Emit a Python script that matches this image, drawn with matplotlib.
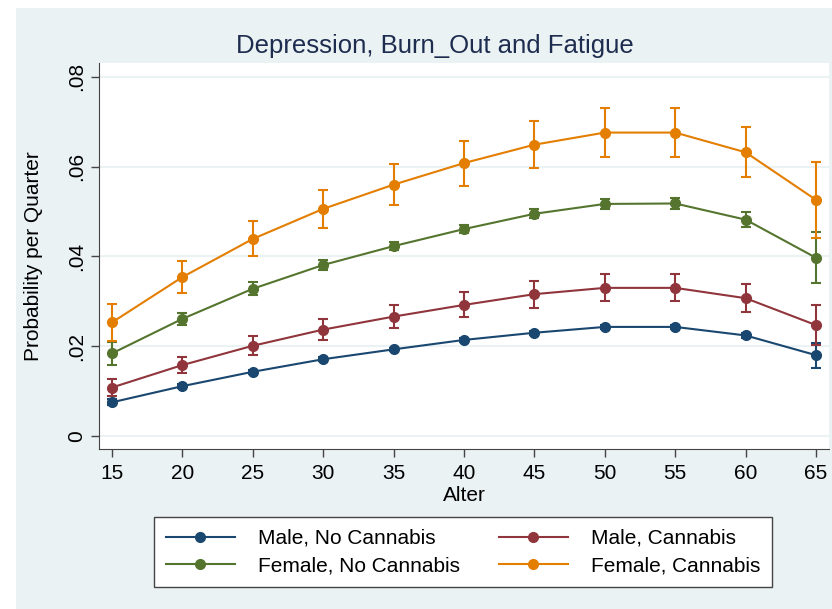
import matplotlib.pyplot as plt
from matplotlib.patches import Rectangle

plt.rcParams['font.family'] = ['Liberation Sans', 'DejaVu Sans']

ages = [15, 20, 25, 30, 35, 40, 45, 50, 55, 60, 65]

male_no = [0.0075, 0.0111, 0.0143, 0.0171, 0.0193, 0.0214, 0.0230, 0.0243, 0.0243, 0.0224, 0.0180]
male_no_err = [0.0007, 0.0005, 0.0005, 0.0005, 0.0004, 0.0004, 0.0004, 0.0005, 0.0005, 0.0006, 0.0028]

male_can = [0.0108, 0.0158, 0.0201, 0.0237, 0.0266, 0.0292, 0.0316, 0.0330, 0.0330, 0.0307, 0.0247]
male_can_err = [0.0019, 0.0017, 0.0021, 0.0024, 0.0025, 0.0028, 0.0030, 0.0030, 0.0030, 0.0031, 0.0045]

female_no = [0.0184, 0.0261, 0.0328, 0.0381, 0.0423, 0.0461, 0.0495, 0.0517, 0.0518, 0.0482, 0.0397]
female_no_err = [0.0025, 0.0014, 0.0014, 0.0011, 0.0009, 0.0009, 0.0010, 0.0012, 0.0012, 0.0017, 0.0057]

female_can = [0.0253, 0.0354, 0.0439, 0.0506, 0.0560, 0.0608, 0.0649, 0.0676, 0.0676, 0.0632, 0.0526]
female_can_err = [0.0041, 0.0035, 0.0039, 0.0043, 0.0046, 0.0050, 0.0052, 0.0055, 0.0055, 0.0056, 0.0085]

labels = ['Male, No Cannabis', 'Male, Cannabis', 'Female, No Cannabis', 'Female, Cannabis']
colors = ['#1a476f', '#90353b', '#55752f', '#e37e00']

fig = plt.figure(figsize=(8.32, 6.09), dpi=100)
fig.patches.append(Rectangle((16 / 832, 0), 1, 1 - 8 / 609, transform=fig.transFigure,
                             facecolor='#eaf2f3', edgecolor='none', zorder=-10))

ax = fig.add_axes([99 / 832, 1 - 449 / 609, 730 / 832, 386 / 609])
ax.set_facecolor('white')

handles = {}
for y, e, lab, c in zip([male_no, male_can, female_no, female_can],
                        [male_no_err, male_can_err, female_no_err, female_can_err],
                        labels, colors):
    h = ax.errorbar(ages, y, yerr=e, fmt='-o', color=c, lw=1.5, ms=7,
                    elinewidth=1.5, capsize=3.5, capthick=1.5, label=lab)
    handles[lab] = h[0]

ax.set_xlim(14.08, 65.92)
ax.set_ylim(-0.0029, 0.0831)
ax.set_xticks(ages)
ax.set_yticks([0, 0.02, 0.04, 0.06, 0.08])
ax.set_yticklabels(['0', '.02', '.04', '.06', '.08'], rotation=90, va='center')
ax.tick_params(labelsize=15, length=6, width=1, color='#444444')
ax.tick_params(axis='x', pad=5)
ax.grid(axis='y', color='#eaf2f3', lw=1.5)
ax.set_axisbelow(True)
for s in ['top', 'right']:
    ax.spines[s].set_visible(False)
for s in ['left', 'bottom']:
    ax.spines[s].set_color('#444444')

ax.set_xlabel('Alter', fontsize=15, labelpad=2)
ax.set_ylabel('Probability per Quarter', fontsize=15, labelpad=17)

fig.text(435 / 832, 1 - 46 / 609, 'Depression, Burn_Out and Fatigue', fontsize=18.5,
         color='#1e2d4f', ha='center', va='center')

order = ['Male, No Cannabis', 'Female, No Cannabis', 'Male, Cannabis', 'Female, Cannabis']
leg = fig.legend([handles[k] for k in order], order, ncol=2, loc='center',
                 bbox_to_anchor=(463 / 832, 1 - 552 / 609), fontsize=15,
                 frameon=True, fancybox=False, edgecolor='#444444', facecolor='white',
                 handlelength=3.3, handletextpad=1.1, columnspacing=1.9,
                 labelspacing=0.4, borderpad=0.55)
leg.get_frame().set_linewidth(1)
leg.get_frame().set_alpha(None)

fig.savefig('out.png', dpi=100)
